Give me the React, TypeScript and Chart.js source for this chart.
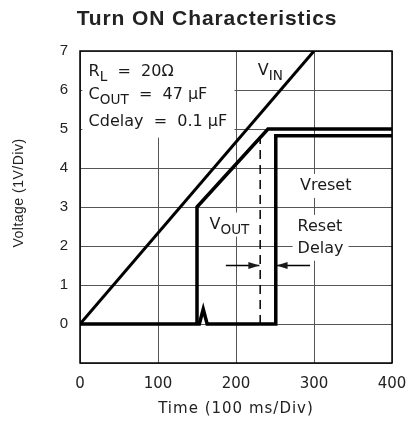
import React, { useEffect, useRef } from 'react';
import { Chart, registerables } from 'chart.js';
Chart.register(...registerables);

const xTickValues = [0, 100, 200, 300, 400];
const yTickValues = [0, 1, 2, 3, 4, 5, 6, 7];
const vinX = [0, 300];
const vinY = [0, 7];
const voutX = [150, 150, 241, 400];
const voutY = [0, 3, 5, 5];
const resetX = [0, 153, 158, 163, 251, 251, 400];
const resetY = [0, 0, 0.38, 0, 0, 4.83, 4.83];
const delayX = [231, 231];
const delayY = [0, 4.78];
const arrowInX = [187, 230];
const arrowInY = [1.5, 1.5];
const arrowBackX = [295, 252];
const arrowBackY = [1.5, 1.5];

const title = 'Turn ON Characteristics';
const xTitle = 'Time (100 ms/Div)';
const yTitle = 'Voltage (1V/Div)';

const PLOT_FONT = '"DejaVu Sans", sans-serif';
const SANS = '"Liberation Sans", Arial, sans-serif';
const LABEL_SIZE = 16;

const pts = (xs: number[], ys: number[]) => xs.map((x, i) => ({ x, y: ys[i] }));

type Seg = { t: string; sub?: boolean };

function drawSegs(ctx: CanvasRenderingContext2D, segs: Seg[], x: number, y: number, size: number) {
  let cx = x;
  for (const s of segs) {
    ctx.font = `${s.sub ? size * 0.85 : size}px ${PLOT_FONT}`;
    ctx.fillText(s.t, cx, s.sub ? y + size * 0.35 : y);
    cx += ctx.measureText(s.t).width;
  }
  return cx - x;
}
function segsWidth(ctx: CanvasRenderingContext2D, segs: Seg[], size: number) {
  let w = 0;
  for (const s of segs) {
    ctx.font = `${s.sub ? size * 0.85 : size}px ${PLOT_FONT}`;
    w += ctx.measureText(s.t).width;
  }
  return w;
}

const labels: { segs: Seg[]; x: number; y: number }[] = [
  { segs: [{ t: 'V' }, { t: 'IN', sub: true }], x: 228, y: 6.5 },
  { segs: [{ t: 'Vreset' }], x: 282, y: 3.54 },
  { segs: [{ t: 'V' }, { t: 'OUT', sub: true }], x: 166, y: 2.55 },
  { segs: [{ t: 'Reset' }], x: 279, y: 2.49 },
  { segs: [{ t: 'Delay' }], x: 279, y: 1.93 },
];
const params: Seg[][] = [
  [{ t: 'R' }, { t: 'L', sub: true }, { t: '  =  20\u03A9' }],
  [{ t: 'C' }, { t: 'OUT', sub: true }, { t: '  =  47 \u03BCF' }],
  [{ t: 'Cdelay  =  0.1 \u03BCF' }],
];
const paramY = [6.46, 5.87, 5.18];

const annot = {
  id: 'annot',
  beforeDatasetsDraw(chart: any) {
    const ctx = chart.ctx as CanvasRenderingContext2D;
    const xs = chart.scales.x, ys = chart.scales.y;
    ctx.save();
    ctx.fillStyle = '#fff';
    ctx.fillRect(xs.getPixelForValue(3), ys.getPixelForValue(6.98), xs.getPixelForValue(198) - xs.getPixelForValue(3), ys.getPixelForValue(4.78) - ys.getPixelForValue(6.98));
    for (const l of labels) {
      const w = segsWidth(ctx, l.segs, LABEL_SIZE);
      const px = xs.getPixelForValue(l.x), py = ys.getPixelForValue(l.y);
      ctx.fillRect(px - 5, py - 12, w + 10, 24);
    }
    ctx.restore();
  },
  afterDatasetsDraw(chart: any) {
    const ctx = chart.ctx as CanvasRenderingContext2D;
    const xs = chart.scales.x, ys = chart.scales.y;
    const a = chart.chartArea;
    ctx.save();
    ctx.fillStyle = '#1a1a1a';
    ctx.textBaseline = 'middle';
    ctx.textAlign = 'left';
    for (const l of labels) {
      drawSegs(ctx, l.segs, xs.getPixelForValue(l.x), ys.getPixelForValue(l.y), LABEL_SIZE);
    }
    params.forEach((p, i) => drawSegs(ctx, p, xs.getPixelForValue(11), ys.getPixelForValue(paramY[i]), LABEL_SIZE));
    const head = (xv: number, yv: number, dir: number) => {
      const px = xs.getPixelForValue(xv), py = ys.getPixelForValue(yv);
      ctx.beginPath();
      ctx.moveTo(px, py);
      ctx.lineTo(px - dir * 11, py - 3.5);
      ctx.lineTo(px - dir * 11, py + 3.5);
      ctx.closePath();
      ctx.fill();
    };
    head(arrowInX[1], arrowInY[1], 1);
    head(arrowBackX[1], arrowBackY[1], -1);
    ctx.strokeStyle = '#000';
    ctx.lineWidth = 1.5;
    ctx.strokeRect(a.left, a.top, a.right - a.left, a.bottom - a.top);
    ctx.fillStyle = '#222';
    ctx.textAlign = 'center';
    (ctx as any).letterSpacing = '0.9px';
    ctx.font = `bold 21px ${SANS}`;
    ctx.fillText(title, 207, 19);
    (ctx as any).letterSpacing = '1px';
    ctx.font = `15px ${PLOT_FONT}`;
    ctx.fillText(xTitle, (a.left + a.right) / 2, 409);
    (ctx as any).letterSpacing = '0.5px';
    ctx.translate(19, 193);
    ctx.rotate(-Math.PI / 2);
    ctx.font = `14px ${SANS}`;
    ctx.fillText(yTitle, 0, 0);
    (ctx as any).letterSpacing = '0px';
    ctx.restore();
  },
};

export default function App() {
  const ref = useRef<HTMLCanvasElement>(null);
  useEffect(() => {
    const thick = { borderColor: '#000', pointRadius: 0, showLine: true, fill: false, tension: 0 };
    const chart = new Chart(ref.current!, {
      type: 'scatter',
      data: {
        datasets: [
          { ...thick, data: pts(vinX, vinY), borderWidth: 3 },
          { ...thick, data: pts(resetX, resetY), borderWidth: 3.5 },
          { ...thick, data: pts(voutX, voutY), borderWidth: 3.5 },
          { ...thick, data: pts(delayX, delayY), borderWidth: 1.5, borderDash: [9, 6] },
          { ...thick, data: pts(arrowInX, arrowInY), borderWidth: 1.5 },
          { ...thick, data: pts(arrowBackX, arrowBackY), borderWidth: 1.5 },
        ] as any,
      },
      options: {
        animation: false,
        responsive: false,
        layout: { padding: { top: 51, right: 19, left: 0, bottom: 0 } },
        plugins: { legend: { display: false }, tooltip: { enabled: false }, title: { display: false } },
        scales: {
          x: {
            type: 'linear', min: 0, max: 400,
            afterFit: (s: any) => { s.height = 66; s.paddingLeft = 0; s.paddingRight = 0; },
            afterBuildTicks: (s: any) => { s.ticks = xTickValues.map((v) => ({ value: v })); },
            ticks: { color: '#222', font: { family: PLOT_FONT, size: 15 }, padding: 12, maxRotation: 0 },
            grid: { color: '#555', lineWidth: 1, drawTicks: false },
            border: { display: false },
          },
          y: {
            type: 'linear', min: -1, max: 7,
            afterFit: (s: any) => { s.width = 80; s.paddingTop = 0; s.paddingBottom = 0; },
            afterBuildTicks: (s: any) => { s.ticks = [-1, ...yTickValues].map((v) => ({ value: v })); },
            ticks: { color: '#222', font: { family: SANS, size: 15 }, padding: 12, callback: (v: any) => (v < 0 ? '' : String(v)) },
            grid: { color: '#555', lineWidth: 1, drawTicks: false },
            border: { display: false },
          },
        },
      },
      plugins: [annot],
    });
    return () => chart.destroy();
  }, []);
  return (
    <div style={{ position: 'absolute', left: 0, top: 0, width: 411, height: 429, background: '#fff' }}>
      <canvas ref={ref} width={411} height={429} style={{ display: 'block' }} />
    </div>
  );
}
